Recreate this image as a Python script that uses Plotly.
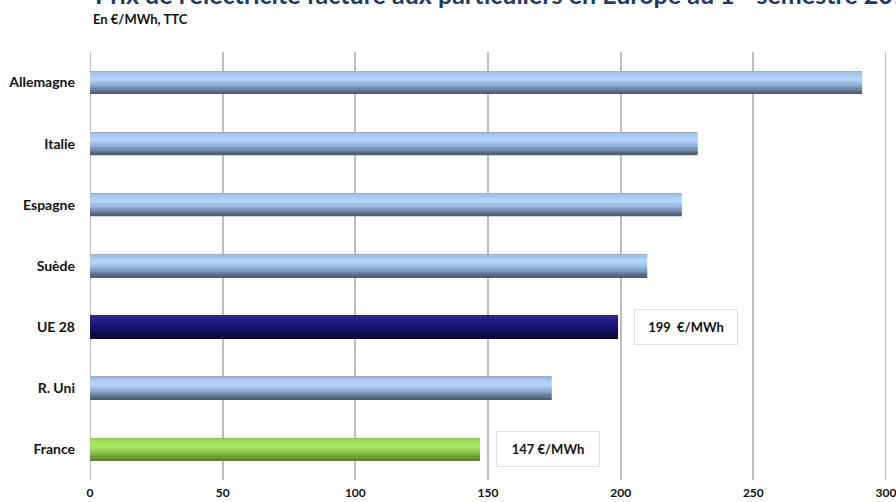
import plotly.graph_objects as go

countries = ["Allemagne", "Italie", "Espagne", "Suède", "UE 28", "R. Uni", "France"]
prices = [291, 229, 223, 210, 199, 174, 147]
x_ticks = [0, 50, 100, 150, 200, 250, 300]
title_text = "Prix de l'électricité facturé aux particuliers en Europe au 1<sup>er</sup> semestre 2015"
subtitle_text = "En €/MWh, TTC"
labels = {"UE 28": "199&nbsp; €/MWh", "France": "147 €/MWh"}

# shading key points (position from top of bar -> colour)
shade_blue = [(0.0, "#98A6B8"), (0.1, "#A6C6EE"), (0.35, "#B6D6FA"), (0.6, "#93B4DE"), (0.8, "#6F88A8"), (1.0, "#4A586C")]
shade_navy = [(0.0, "#2E268E"), (0.35, "#1E1680"), (0.6, "#16106C"), (1.0, "#0A0838")]
shade_green = [(0.0, "#86BC48"), (0.1, "#9CDA58"), (0.35, "#AAEC62"), (0.6, "#93D04E"), (0.8, "#77A83C"), (1.0, "#56802A")]


def hex2rgb(h):
    h = h.lstrip("#")
    return tuple(int(h[i:i + 2], 16) for i in (0, 2, 4))


def interp(stops, t):
    for (t0, c0), (t1, c1) in zip(stops[:-1], stops[1:]):
        if t0 <= t <= t1:
            f = 0 if t1 == t0 else (t - t0) / (t1 - t0)
            a, b = hex2rgb(c0), hex2rgb(c1)
            return "rgb(%d,%d,%d)" % tuple(round(a[k] + (b[k] - a[k]) * f) for k in range(3))
    return stops[-1][1]


def shade(c):
    if c == "UE 28":
        return shade_navy
    if c == "France":
        return shade_green
    return shade_blue


n = 18
total_w = 0.37
sw = total_w / n
fig = go.Figure()
for i in range(n):
    t = (i + 0.5) / n
    colors = [interp(shade(c), t) for c in countries]
    fig.add_trace(go.Bar(
        x=prices, y=countries, orientation="h",
        width=sw * 1.15, offset=-total_w / 2 + i * sw,
        marker=dict(color=colors, line=dict(width=0)),
        hoverinfo="x+y", showlegend=False,
    ))

W, H = 896, 502
ML, MR, MT, MB = 90, 10, 52, 22
fig.update_layout(
    width=W, height=H,
    margin=dict(l=ML, r=MR, t=MT, b=MB, autoexpand=False),
    paper_bgcolor="white", plot_bgcolor="white",
    barmode="overlay",
    font=dict(family="Lato", size=13, color="#111111"),
    xaxis=dict(range=[0, 300], tickvals=x_ticks, showgrid=True, gridcolor="#BEBEBE", gridwidth=2,
               zeroline=False, showline=False, ticks="", ticklabelstandoff=4,
               ticklabeloverflow="allow", automargin=False,
               tickfont=dict(size=12, family="Lato", weight="bold")),
    yaxis=dict(autorange="reversed", showgrid=False, ticks="", ticklabelstandoff=14,
               automargin=False, ticklabeloverflow="allow",
               tickfont=dict(size=14, family="Lato", weight="bold"), showline=False),
)

for xv in (x_ticks[0], x_ticks[-1]):
    fig.add_shape(type="line", xref="x", yref="paper", x0=xv, x1=xv, y0=0, y1=1,
                  line=dict(color="#BEBEBE", width=2), layer="below")

for c, t in labels.items():
    v = prices[countries.index(c)]
    fig.add_annotation(x=v + 25.5, y=c, xref="x", yref="y", text="<b>" + t + "</b>",
                       showarrow=False, bgcolor="white", bordercolor="#E0E0E0", borderwidth=1,
                       borderpad=9, font=dict(size=13, family="Lato", color="#111111"),
                       width=84, align="center")

plot_h = H - MT - MB
plot_w = W - ML - MR
# title: bottom edge of its box placed near the top of the page (partly cut, as in the source)
fig.add_annotation(x=(93 - 90) / plot_w, y=1 + (MT - 11) / plot_h, xref="paper", yref="paper",
                   xanchor="left", yanchor="bottom",
                   text="<b>" + title_text + "</b>", showarrow=False,
                   font=dict(size=25, family="Lato", color="#1F3A63"))
fig.add_annotation(x=(91 - 90) / plot_w, y=1 + (MT - 19) / plot_h, xref="paper", yref="paper",
                   xanchor="left", yanchor="middle",
                   text="<b>" + subtitle_text + "</b>", showarrow=False,
                   font=dict(size=13, family="Lato", color="#111111"))

fig.write_html("out.html", config={"displayModeBar": False},
               post_script="document.body.style.margin='0';document.body.style.overflow='hidden';")
